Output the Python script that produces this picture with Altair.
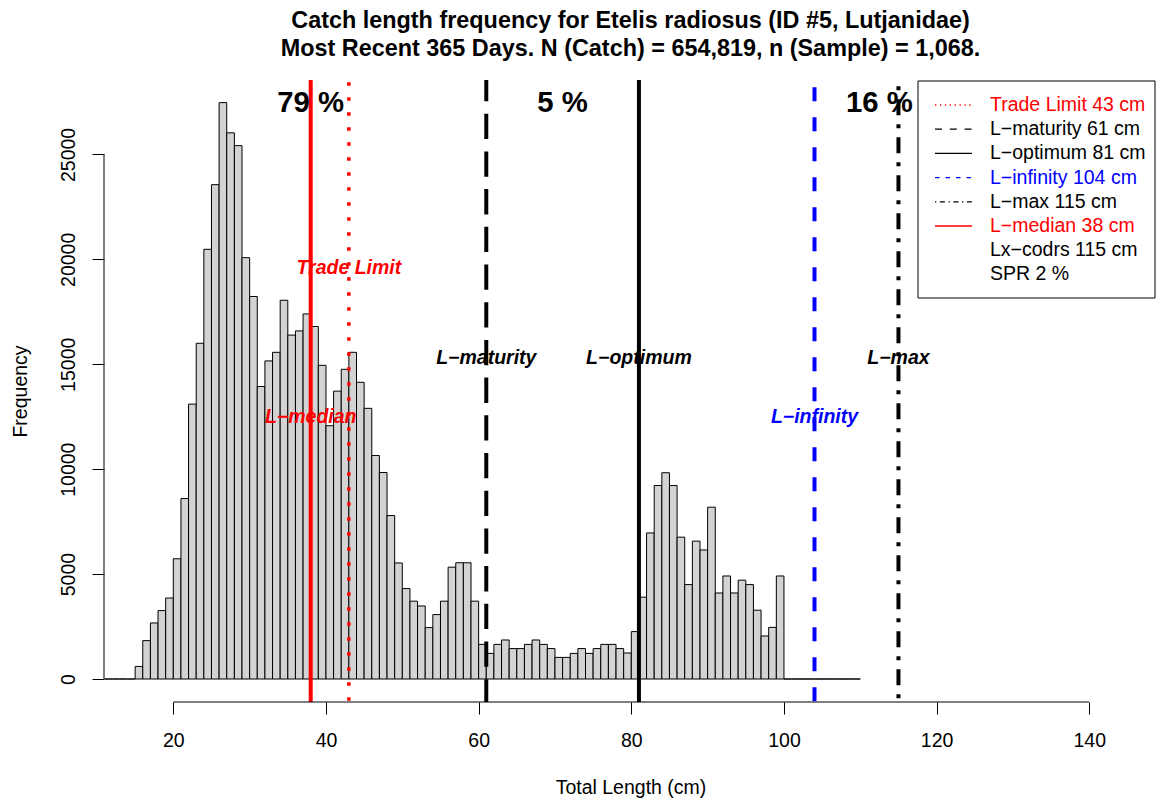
import altair as alt
import pandas as pd

# ---- length-frequency histogram: 1 cm classes (lower edge) and catch-weighted counts
length_lo = list(range(11, 110))
counts = (
    [0, 0, 0, 0]
    + [600, 1830, 2670, 3260, 3860, 5730, 8600, 13100, 16000, 20480,
       23560, 27470, 26030, 25420, 20080, 18230, 13940, 15160, 15570, 18050,
       16390, 16590, 17400, 16800, 14950, 12070, 13720, 14760, 15570, 14140,
       12900, 10650, 9840, 7790, 5530, 4310, 3710, 3480, 2450, 3070,
       3710, 5330, 5540, 5540, 3710, 1650, 1220, 1650, 1860, 1450,
       1450, 1650, 1860, 1650, 1450, 1030, 1030, 1220, 1450, 1220,
       1450, 1650, 1650, 1450, 1240, 2260, 3900, 6960, 9220, 9830,
       9220, 6760, 4500, 6570, 6150, 8190, 4100, 4910, 4100, 4710,
       4500, 3280, 2050, 2460, 4910]
    + [0] * 10
)

# ---- reference lengths (cm)
ref_names = ["Trade Limit", "L\u2212maturity", "L\u2212optimum", "L\u2212infinity", "L\u2212max", "L\u2212median"]
ref_values = [43, 61, 81, 104, 115, 38]
ref_colors = ["#FF0000", "#000000", "#000000", "#0000FF", "#000000", "#FF0000"]
ref_label_y = [19600, 15300, 15300, 12500, 15300, 12500]

# ---- share of catch below maturity / between maturity and optimum / above optimum
pct_text = ["79 %", "5 %", "16 %"]
pct_x = [38, 71, 112.5]

# ---- legend entries
legend_text = [f"{n} {v} cm" for n, v in zip(ref_names, ref_values)] + ["Lx\u2212codrs 115 cm", "SPR 2 %"]
legend_colors = ref_colors + ["#000000", "#000000"]

x_ticks = [20, 40, 60, 80, 100, 120, 140]
y_ticks = [0, 5000, 10000, 15000, 20000, 25000]

title_lines = [
    "Catch length frequency for Etelis radiosus (ID #5, Lutjanidae)",
    "Most Recent 365 Days. N (Catch) = 654,819, n (Sample) = 1,068.",
]

FONT = "Liberation Sans"
W, H = 1053, 622
X_DOMAIN = [10.92, 148.87]
Y_DOMAIN = [-1096, 28548]

xs = alt.Scale(domain=X_DOMAIN, nice=False, zero=False)
ys = alt.Scale(domain=Y_DOMAIN, nice=False, zero=False)

hist = pd.DataFrame({"lo": length_lo, "hi": [v + 1 for v in length_lo], "n": counts})

# one shared axis definition per channel, reused by every layer
x_axis = alt.Axis(
    values=x_ticks, domain=False, grid=False, ticks=True, tickSize=12,
    tickColor="#000000", tickWidth=1,
    labels=True, labelFont=FONT, labelFontSize=19.5, labelColor="#000000",
    labelPadding=26, labelBaseline="middle", labelOverlap=False, labelFlush=False,
    format="d",
    title="Total Length (cm)", titleFont=FONT, titleFontSize=19.5,
    titleFontWeight="normal", titleColor="#000000", titlePadding=29,
)
y_axis = alt.Axis(
    values=y_ticks, domain=False, grid=False, ticks=True, tickSize=12,
    tickColor="#000000", tickWidth=1,
    labels=True, labelFont=FONT, labelFontSize=19.5, labelColor="#000000",
    labelAngle=270, labelAlign="center", labelBaseline="middle", labelPadding=24,
    labelOverlap=False, labelFlush=False, format="d",
    title="Frequency", titleFont=FONT, titleFontSize=19.5, titleFontWeight="normal",
    titleColor="#000000", titlePadding=28,
)

bars = alt.Chart(hist).mark_rect(fill="#D3D3D3", stroke="#000000", strokeWidth=1).encode(
    x=alt.X("lo:Q", scale=xs, axis=x_axis),
    x2="hi:Q",
    y=alt.Y("n:Q", scale=ys, axis=y_axis),
    y2=alt.datum(0),
)

# axis lines span the tick range only
x_line = alt.Chart(pd.DataFrame({"a": [min(x_ticks)], "b": [max(x_ticks)]})).mark_rule(
    color="#000000", strokeWidth=1
).encode(x=alt.X("a:Q", scale=xs, axis=x_axis), x2="b:Q", y=alt.value(H))

y_line = alt.Chart(pd.DataFrame({"a": [min(y_ticks)], "b": [max(y_ticks)]})).mark_rule(
    color="#000000", strokeWidth=1
).encode(y=alt.Y("a:Q", scale=ys, axis=y_axis), y2="b:Q", x=alt.value(0))

# vertical reference lines, each with its own line type
line_styles = [
    dict(strokeDash=[3.5, 11.5], strokeDashOffset=12.75, strokeWidth=3.5),
    dict(strokeDash=[25.3, 12.4], strokeDashOffset=4, strokeWidth=4),
    dict(strokeWidth=4),
    dict(strokeDash=[14, 16], strokeDashOffset=22.7, strokeWidth=4),
    dict(strokeDash=[16, 9, 4, 9], strokeDashOffset=18.7, strokeWidth=4),
    dict(strokeWidth=4),
]
ref_rules = []
for val, col, sty in zip(ref_values, ref_colors, line_styles):
    d = pd.DataFrame({"v": [val]})
    ref_rules.append(
        alt.Chart(d).mark_rule(color=col, strokeCap="butt", **sty).encode(
            x=alt.X("v:Q", scale=xs, axis=x_axis), y=alt.value(0), y2=alt.value(H)
        )
    )

ref_df = pd.DataFrame({"name": ref_names, "v": ref_values, "c": ref_colors, "ly": ref_label_y})
ref_labels = alt.Chart(ref_df).mark_text(
    font=FONT, fontSize=19.5, fontWeight="bold", fontStyle="italic",
    align="center", baseline="middle",
).encode(
    x=alt.X("v:Q", scale=xs, axis=x_axis),
    y=alt.Y("ly:Q", scale=ys, axis=y_axis),
    text="name:N",
    color=alt.Color("c:N", scale=None),
)

pct_df = pd.DataFrame({"t": pct_text, "x": pct_x, "y": [max(counts)] * len(pct_x)})
pct_labels = alt.Chart(pct_df).mark_text(
    font=FONT, fontSize=29.3, fontWeight="bold", color="#000000",
    align="center", baseline="middle",
).encode(
    x=alt.X("x:Q", scale=xs, axis=x_axis),
    y=alt.Y("y:Q", scale=ys, axis=y_axis),
    text="t:N",
)

# ---- legend box (placed in pixel space at the upper right of the plot)
ROW0, ROW_STEP = 25, 24.2
box = alt.Chart(pd.DataFrame({"k": [0]})).mark_rect(
    fill="#FFFFFF", stroke="#000000", strokeWidth=1
).encode(x=alt.value(814), x2=alt.value(1051), y=alt.value(1), y2=alt.value(218))

legend_line_styles = [
    dict(strokeDash=[1.3, 3.6]),
    dict(strokeDash=[7, 7.8]),
    dict(),
    dict(strokeDash=[4.5, 6]),
    dict(strokeDash=[1.3, 3.6, 5, 3.6]),
    dict(),
]
leg_lines = []
for i, (col, sty) in enumerate(zip(ref_colors, legend_line_styles)):
    leg_lines.append(
        alt.Chart(pd.DataFrame({"k": [0]})).mark_rule(
            color=col, strokeWidth=1.3, strokeCap="butt", **sty
        ).encode(y=alt.value(ROW0 + i * ROW_STEP), x=alt.value(831), x2=alt.value(868))
    )

leg_df = pd.DataFrame({"row": list(range(len(legend_text))), "t": legend_text, "c": legend_colors})
leg_text = alt.Chart(leg_df).transform_calculate(
    ypx=f"{ROW0} + datum.row * {ROW_STEP}"
).mark_text(
    font=FONT, fontSize=19.5, align="left", baseline="middle"
).encode(
    y=alt.Y("ypx:Q", scale=None),
    x=alt.value(886),
    text="t:N",
    color=alt.Color("c:N", scale=None),
)

chart = alt.layer(
    bars, *ref_rules, ref_labels, pct_labels, x_line, y_line, box, *leg_lines, leg_text
).properties(
    width=W,
    height=H,
    padding={"left": 104, "top": 80, "right": 0, "bottom": 99},
    autosize=alt.AutoSizeParams(type="none"),
    title=alt.TitleParams(
        text=title_lines, font=FONT, fontSize=23.4, fontWeight="bold", color="#000000",
        lineHeight=28, anchor="middle", baseline="bottom", offset=-6,
    ),
    background="#FFFFFF",
).configure_view(stroke=None)

chart.save("out.html", embed_options={"renderer": "svg", "actions": False})
